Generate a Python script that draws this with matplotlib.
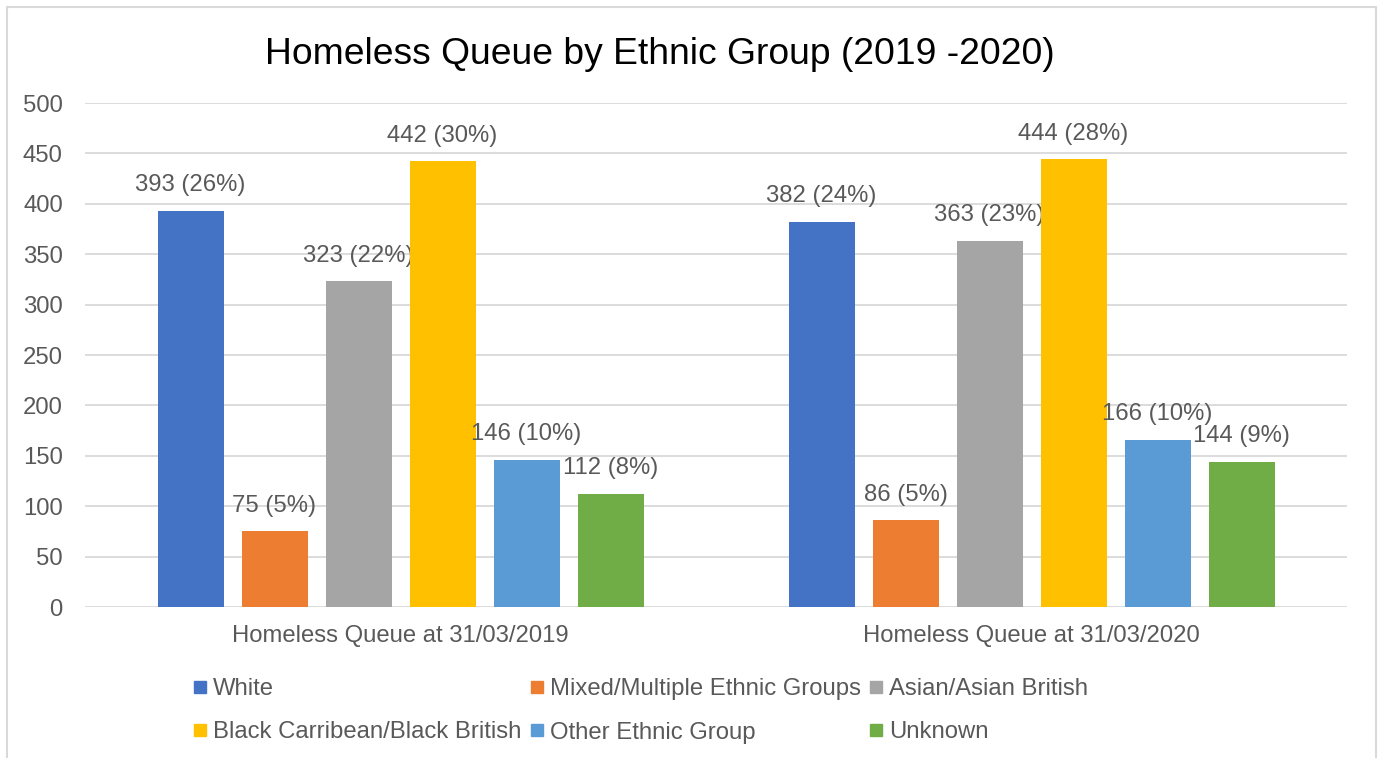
import numpy as np
import matplotlib
matplotlib.use('Agg')
import matplotlib.pyplot as plt
from matplotlib.lines import Line2D
from matplotlib.patches import Rectangle
from matplotlib import rcParams

rcParams['font.family'] = ['Liberation Sans', 'DejaVu Sans']

# data
categories = ['Homeless Queue at 31/03/2019', 'Homeless Queue at 31/03/2020']
groups = ['White', 'Mixed/Multiple Ethnic Groups', 'Asian/Asian British',
          'Black Carribean/Black British', 'Other Ethnic Group', 'Unknown']
counts_2019 = [393, 75, 323, 442, 146, 112]
counts_2020 = [382, 86, 363, 444, 166, 144]
pct_2019 = [26, 5, 22, 30, 10, 8]
pct_2020 = [24, 5, 23, 28, 10, 9]
yticks = [0, 50, 100, 150, 200, 250, 300, 350, 400, 450, 500]

colors = ['#4472C4', '#ED7D31', '#A5A5A5', '#FFC000', '#5B9BD5', '#70AD47']
text_col = '#595959'
grid_col = '#D9D9D9'
fs = 17.2

W, H = 1379, 758
fig = plt.figure(figsize=(W / 100, H / 100), dpi=100)
ax = fig.add_axes([85 / W, 151 / H, 1262 / W, 504 / H])

x = np.arange(len(categories))
step = 84 / 631
width = 66 / 631
counts = np.array([counts_2019, counts_2020])
pcts = np.array([pct_2019, pct_2020])

for i, g in enumerate(groups):
    pos = x + (i - 2.5) * step
    ax.bar(pos, counts[:, i], width, color=colors[i], zorder=3, label=g)
    for px, v, p in zip(pos, counts[:, i], pcts[:, i]):
        ax.annotate(f'{v} ({p}%)', (px, v), xytext=(0, 18.5), textcoords='offset points',
                    ha='center', va='center', fontsize=fs, color=text_col)

ax.set_xlim(-0.5, 1.5)
ax.set_ylim(0, 500)
ax.set_yticks(yticks)
ax.set_xticks(x)
ax.set_xticklabels(categories)
ax.tick_params(axis='both', length=0, labelsize=fs, labelcolor=text_col)
ax.tick_params(axis='y', pad=16)
ax.tick_params(axis='x', pad=13)
ax.yaxis.grid(True, color=grid_col, lw=1.3, zorder=0)
for s in ax.spines.values():
    s.set_visible(False)

fig.text(660 / W, 1 - 54 / H, 'Homeless Queue by Ethnic Group (2019 -2020)',
         ha='center', va='center', fontsize=26.8, color='black')

# legend laid out row by row, like Excel
order = [0, 3, 1, 4, 2, 5]
handles = [Line2D([], [], ls='none', marker='s', markersize=8, color=colors[i]) for i in order]
labels = [groups[i] for i in order]
fig.legend(handles, labels, ncol=3, frameon=False, fontsize=fs, labelcolor=text_col,
           loc='upper left', bbox_to_anchor=(190 / W, 1 - 678 / H),
           handlelength=0.8, handletextpad=0.15, columnspacing=0.25,
           labelspacing=0.9, borderpad=0, borderaxespad=0)

# chart border
fig.patches.append(Rectangle((7 / W, -0.05), 1369 / W, 1.05 - 7 / H, transform=fig.transFigure,
                             fill=False, edgecolor=grid_col, lw=1.5))

fig.savefig('out.png', dpi=100, facecolor='white')
